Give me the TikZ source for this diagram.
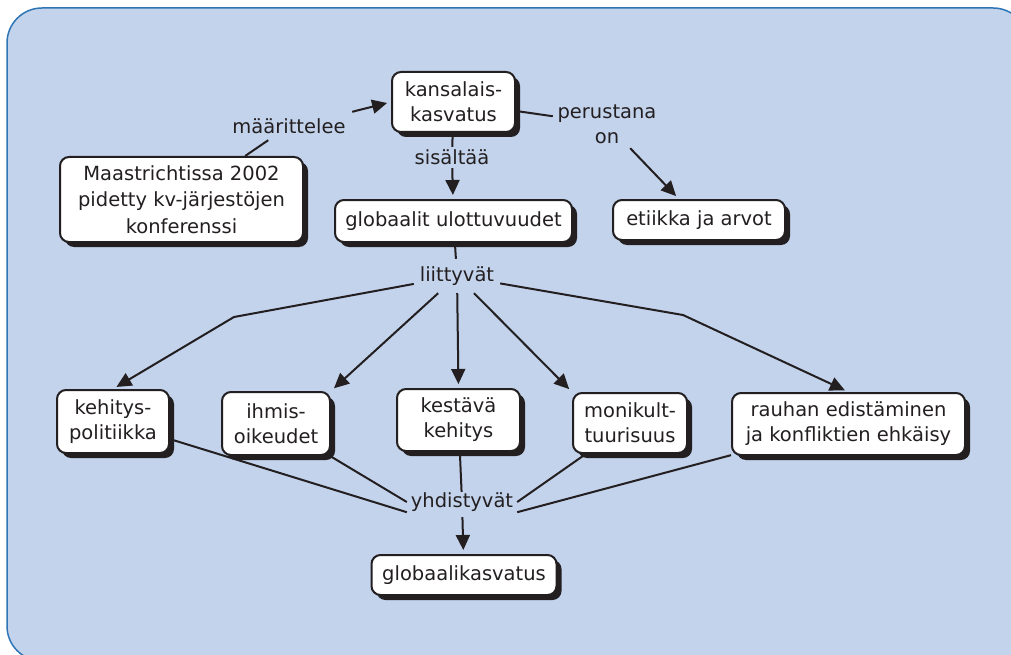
\documentclass[tikz,border=0pt]{standalone}
\usepackage{fontspec}
\setmainfont{DejaVu Sans}
\usetikzlibrary{shadows,arrows.meta}
\definecolor{panel}{RGB}{195,211,236}
\definecolor{paneledge}{RGB}{46,117,182}
\definecolor{ink}{RGB}{35,31,32}
\pgfdeclarelayer{panellayer}
\pgfdeclarelayer{linklayer}
\pgfsetlayers{panellayer,linklayer,main}
\begin{document}
\begin{tikzpicture}[x=1pt,y=-1pt,
  concept/.style={draw=ink, line width=2pt, fill=white, rounded corners=9pt,
    align=center, inner sep=0pt, text=ink,
    font=\fontsize{19.5pt}{25pt}\selectfont,
    drop shadow={shadow xshift=5pt, shadow yshift=-5pt, fill=ink, opacity=1}},
  linkword/.style={inner sep=0pt, align=center, text=ink,
    font=\fontsize{19.5pt}{25pt}\selectfont},
  conn/.style={draw=ink, line width=2pt},
  arr/.style={conn, -{Triangle[length=15pt,width=14pt]}, shorten >=4pt}
]
\useasboundingbox (0,0) rectangle (1011,655);

% panel behind the map
\begin{pgfonlayer}{panellayer}
  \draw[fill=panel, draw=paneledge, line width=1.5pt, rounded corners=35pt]
    (7,8) rectangle (1028,661);
\end{pgfonlayer}

% concepts
\node[concept, minimum width=123pt, minimum height=60pt] (kans) at (453.5,102) {kansalais-\\kasvatus};
\node[concept, minimum width=243pt, minimum height=85pt,
      font=\fontsize{19.5pt}{26.5pt}\selectfont] (maas) at (181.5,199.5)
      {Maastrichtissa 2002\\pidetty kv-järjestöjen\\konferenssi};
\node[concept, minimum width=237pt, minimum height=42pt] (glob) at (453.5,221) {globaalit ulottuvuudet};
\node[concept, minimum width=172pt, minimum height=40pt] (etik) at (699,220) {etiikka ja arvot};
\node[concept, minimum width=112pt, minimum height=63pt] (kehi) at (113,421.5) {kehitys-\\politiikka};
\node[concept, minimum width=108pt, minimum height=63pt] (ihmi) at (276,423.5) {ihmis-\\oikeudet};
\node[concept, minimum width=123pt, minimum height=62pt] (kest) at (458.5,420) {kestävä\\kehitys};
\node[concept, minimum width=114pt, minimum height=60pt] (moni) at (630,423) {monikult-\\tuurisuus};
\node[concept, minimum width=233pt, minimum height=62pt] (rauh) at (848.5,424) {rauhan edistäminen\\ja konfliktien ehkäisy};
\node[concept, minimum width=185pt, minimum height=40pt] (gkas) at (464,575) {globaalikasvatus};

% linking words
\node[linkword, minimum width=126pt, minimum height=28pt] (maar) at (289,126) {määrittelee};
\node[linkword, minimum width=84pt, minimum height=21pt] (sis) at (452,157.5) {sisältää};
\node[linkword, minimum width=108pt, minimum height=48pt] (per) at (607,124) {perustana\\on};
\node[linkword, minimum width=86pt, minimum height=34pt] (liit) at (457,276) {liittyvät};
\node[linkword, minimum width=110pt, minimum height=20pt] (yhd) at (462,502) {yhdistyvät};

\coordinate (bendL) at (234,317);
\coordinate (bendR) at (683,315);

% connectors
\begin{pgfonlayer}{linklayer}
  \draw[conn] (maas) -- (maar);
  \draw[arr] (maar.north east) -- (kans.west);
  \draw[conn] (kans) -- (sis);
  \draw[arr] (sis) -- (glob);
  \draw[conn] (kans) -- (per);
  \draw[arr] (per) -- (etik);
  \draw[conn] (glob) -- (liit);
  \draw[arr] (liit) -- (bendL) -- (kehi.north);
  \draw[arr] (liit) -- (ihmi.north east);
  \draw[arr] (liit) -- (kest.north);
  \draw[arr] (liit) -- (moni.north west);
  \draw[arr] (liit) -- (bendR) -- (rauh.north);
  \draw[conn] (kehi) -- (yhd.south west);
  \draw[conn] (ihmi) -- (yhd.west);
  \draw[conn] (kest) -- (yhd);
  \draw[conn] (moni) -- (yhd.east);
  \draw[conn] (rauh) -- (yhd.south east);
  \draw[arr, shorten <=5pt] (yhd) -- (gkas);
\end{pgfonlayer}
\end{tikzpicture}
\end{document}
